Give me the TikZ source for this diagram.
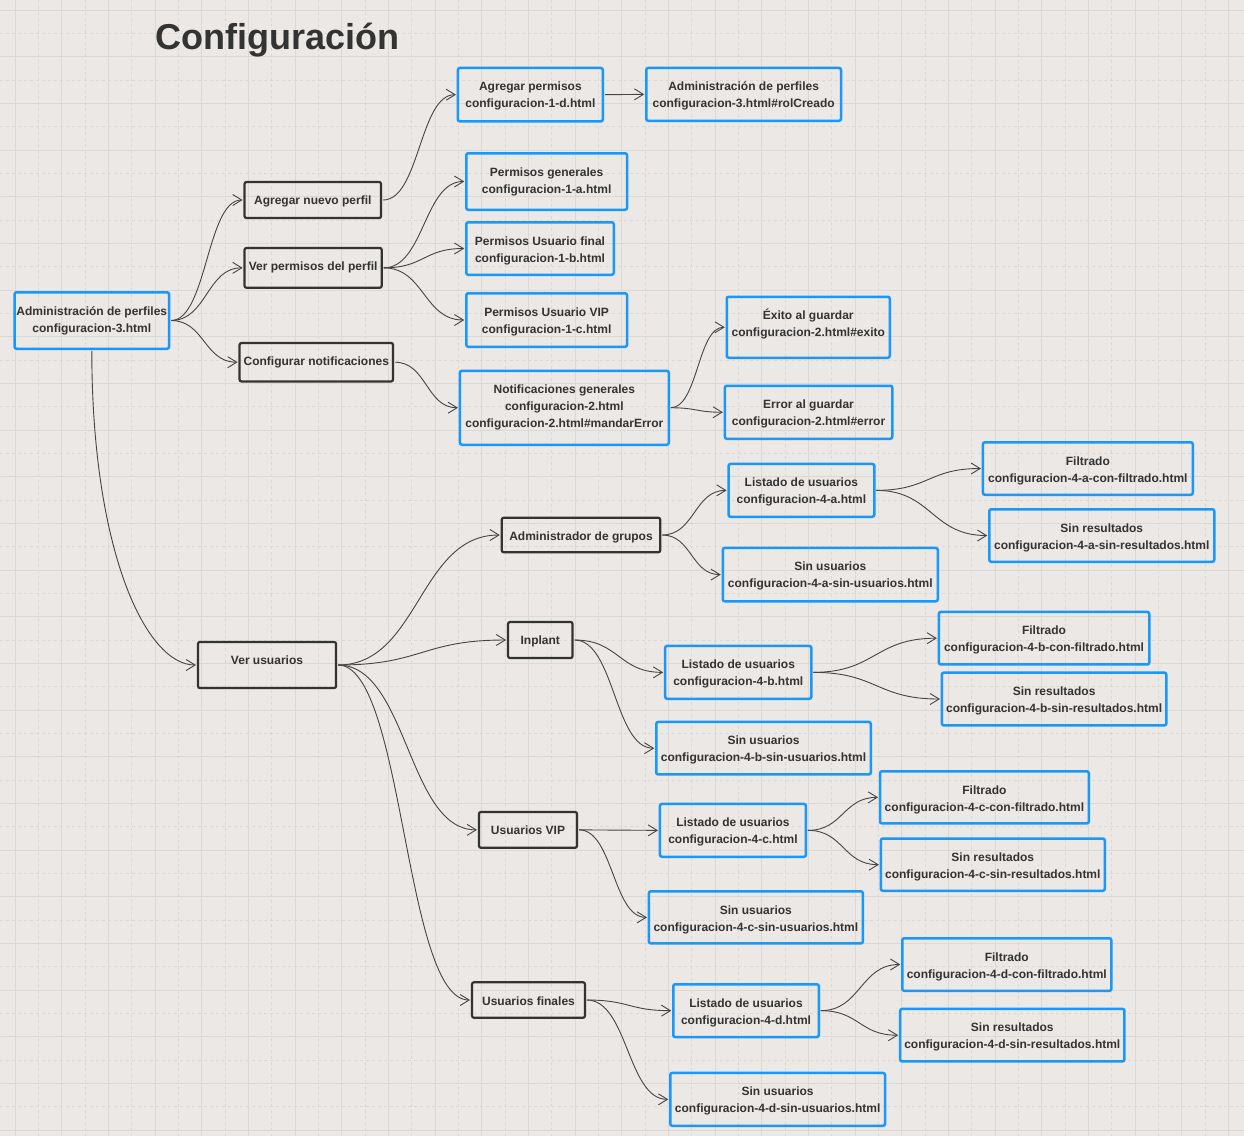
\documentclass[tikz,border=0pt]{standalone}
\usepackage{fontspec}
\setmainfont{Liberation Sans}
\usetikzlibrary{arrows.meta,calc}
\definecolor{bg}{HTML}{EBE8E5}
\definecolor{gridc}{HTML}{DCD9D5}
\definecolor{bluec}{RGB}{25,152,250}
\definecolor{darkc}{HTML}{333333}
\definecolor{linec}{HTML}{454545}
\newcommand\bx[7]{%
  \node[#1, minimum width={#5-#3-2.5}, minimum height={#6-#4-2.5}] (#2) at ({(#3+#5)/2},{(#4+#6)/2}) {};
  \node[boxtext] (#2t) at ({(#3+#5)/2},{#4+8.95}) {\rule{0pt}{14.85pt}#7};}
\newcommand\cn[2]{\draw[conn] let \p1=(#1.east), \p2=(#2.west), \p3=($(\p1)!0.5!(\p2)$) in (\p1) .. controls (\x3,\y1) and (\x3,\y2) .. (\p2);}
\begin{document}
\begin{tikzpicture}[x=1pt,y=-1pt,
  boxbase/.style={inner sep=0pt, outer sep=2pt, rounded corners=2pt},
  boxtext/.style={anchor=north, align=center, inner sep=0pt, text=darkc, font=\fontsize{12}{17}\selectfont\bfseries},
  bluebox/.style={boxbase, draw=bluec, line width=2.5pt},
  blackbox/.style={boxbase, draw=darkc, line width=2.2pt},
  conn/.style={draw=linec, line width=0.9pt, -{Straight Barb[length=9pt,width=11pt]}},
  gsolid/.style={draw=gridc, line width=1pt},
  gdash/.style={draw=gridc, line width=0.8pt, dash pattern=on 3pt off 3pt}]
\useasboundingbox (0,0) rectangle (1244,1136);
\fill[bg] (0,0) rectangle (1244,1136);
% grid
\foreach \x in {15,61.667,...,1244} \draw[gsolid] (\x,0) -- (\x,1136);
\foreach \x in {38.333,85,...,1244} \draw[gdash] (\x,0) -- (\x,1136);
\foreach \y in {10,56.667,...,1136} \draw[gsolid] (0,\y) -- (1244,\y);
\foreach \y in {33.333,80,...,1136} \draw[gdash] (0,\y) -- (1244,\y);
% title
\node[anchor=base west, inner sep=0pt, text=darkc, font=\fontsize{36}{40}\selectfont\bfseries] (title) at (155,49) {Configuración};
% boxes
\bx{bluebox}{A}{13.3}{291}{170.3}{350}{Administración de perfiles\\configuracion-3.html}
\bx{blackbox}{B}{243.3}{180.7}{382.3}{219.3}{Agregar nuevo perfil}
\bx{blackbox}{C}{243.3}{246.7}{383}{289}{Ver permisos del perfil}
\bx{blackbox}{D}{238.3}{341.7}{394.3}{382.7}{Configurar notificaciones}
\bx{bluebox}{E}{456.7}{66.7}{604}{122.7}{Agregar permisos\\configuracion-1-d.html}
\bx{bluebox}{F}{645}{66.7}{842.3}{122}{Administración de perfiles\\configuracion-3.html\#rolCreado}
\bx{bluebox}{G}{465}{152}{628.3}{211}{Permisos generales\\configuracion-1-a.html}
\bx{bluebox}{H}{465}{221}{615}{276}{Permisos Usuario final\\configuracion-1-b.html}
\bx{bluebox}{I}{465}{292}{628.3}{348}{Permisos Usuario VIP\\configuracion-1-c.html}
\bx{bluebox}{J}{458.7}{369.5}{670}{446}{Notificaciones generales\\configuracion-2.html\\configuracion-2.html\#mandarError}
\bx{bluebox}{K}{725.5}{295.5}{891}{359}{Éxito al guardar\\configuracion-2.html\#exito}
\bx{bluebox}{L}{723.6}{384.5}{893.5}{440}{Error al guardar\\configuracion-2.html\#error}
\bx{blackbox}{M}{196.7}{640.7}{337.3}{689.3}{Ver usuarios}
\bx{blackbox}{N}{500.5}{516.5}{661.5}{553.5}{Administrador de grupos}
\bx{bluebox}{O}{727.3}{462.7}{875.5}{518}{Listado de usuarios\\configuracion-4-a.html}
\bx{bluebox}{P}{981.7}{441}{1194}{496}{Filtrado\\configuracion-4-a-con-filtrado.html}
\bx{bluebox}{Q}{988}{508}{1215.5}{563}{Sin resultados\\configuracion-4-a-sin-resultados.html}
\bx{bluebox}{R}{721.5}{546.7}{939}{602.5}{Sin usuarios\\configuracion-4-a-sin-usuarios.html}
\bx{blackbox}{S}{506.8}{620.7}{573.8}{659.3}{Inplant}
\bx{bluebox}{T}{663.9}{644.7}{812.6}{700}{Listado de usuarios\\configuracion-4-b.html}
\bx{bluebox}{U}{937.6}{610.7}{1150.5}{665.7}{Filtrado\\configuracion-4-b-con-filtrado.html}
\bx{bluebox}{V}{940.7}{671.3}{1167.5}{726.7}{Sin resultados\\configuracion-4-b-sin-resultados.html}
\bx{bluebox}{W}{655}{720.7}{872}{775.7}{Sin usuarios\\configuracion-4-b-sin-usuarios.html}
\bx{blackbox}{X}{477.7}{810.7}{578.3}{849}{Usuarios VIP}
\bx{bluebox}{Y}{658.7}{802.7}{807.2}{858}{Listado de usuarios\\configuracion-4-c.html}
\bx{bluebox}{Z}{878.8}{770}{1090}{824.7}{Filtrado\\configuracion-4-c-con-filtrado.html}
\bx{bluebox}{AA}{879.6}{837.3}{1106}{892}{Sin resultados\\configuracion-4-c-sin-resultados.html}
\bx{bluebox}{AB}{647.7}{890}{864}{944.7}{Sin usuarios\\configuracion-4-c-sin-usuarios.html}
\bx{blackbox}{AC}{470.8}{981}{586.2}{1019}{Usuarios finales}
\bx{bluebox}{AD}{672}{983}{820}{1038.3}{Listado de usuarios\\configuracion-4-d.html}
\bx{bluebox}{AE}{901}{937}{1112.6}{992}{Filtrado\\configuracion-4-d-con-filtrado.html}
\bx{bluebox}{AF}{898.9}{1007.7}{1125.7}{1062.7}{Sin resultados\\configuracion-4-d-sin-resultados.html}
\bx{bluebox}{AG}{669}{1071.7}{886.3}{1127}{Sin usuarios\\configuracion-4-d-sin-usuarios.html}
% connectors
\cn{A}{B}\cn{A}{C}\cn{A}{D}
\draw[conn] (A.south) .. controls +(0,200) and +(-50,0) .. (M.west);
\cn{B}{E}\cn{E}{F}
\cn{C}{G}\cn{C}{H}\cn{C}{I}
\cn{D}{J}\cn{J}{K}\cn{J}{L}
\cn{M}{N}\cn{M}{S}\cn{M}{X}\cn{M}{AC}
\cn{N}{O}\cn{N}{R}\cn{O}{P}\cn{O}{Q}
\cn{S}{T}\cn{S}{W}\cn{T}{U}\cn{T}{V}
\cn{X}{Y}\cn{X}{AB}\cn{Y}{Z}\cn{Y}{AA}
\cn{AC}{AD}\cn{AC}{AG}\cn{AD}{AE}\cn{AD}{AF}
\end{tikzpicture}
\end{document}
